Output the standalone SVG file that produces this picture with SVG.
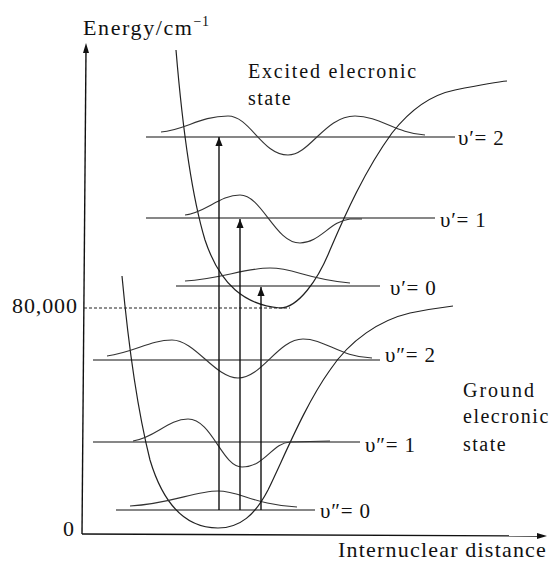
<svg xmlns="http://www.w3.org/2000/svg" width="553" height="561" viewBox="0 0 553 561">
<style>
  .t { font-family: "Liberation Serif", serif; fill: #111; }
  .ax { stroke: #111; stroke-width: 1.4; fill: none; }
  .pot { stroke: #222; stroke-width: 1.2; fill: none; }
  .lvl { stroke: #111; stroke-width: 1.2; fill: none; }
  .wf { stroke: #333; stroke-width: 1.1; fill: none; }
  .tr { stroke: #111; stroke-width: 1.4; fill: none; marker-end: url(#ah); }
</style>
<defs>
  <marker id="ah" viewBox="0 0 10 10" refX="10" refY="5" markerWidth="9" markerHeight="9" markerUnits="userSpaceOnUse" orient="auto">
    <path d="M0,1 L10,5 L0,9 Z" fill="#111"/>
  </marker>
</defs>
<rect width="553" height="561" fill="#fff"/>

<g id="axes">
  <path class="ax" d="M82,534 L86,50" />
  <path d="M86,43 L83,53 L89,53 Z" fill="#111"/>
  <path class="ax" d="M82,534 L538,536" />
  <path d="M547,536 L537,533 L537,539 Z" fill="#111"/>
  <path d="M84,308 L290,308" stroke="#222" stroke-width="1.1" stroke-dasharray="3,2" fill="none"/>
  <text class="t" x="83" y="35" font-size="22" letter-spacing="1.6">Energy/cm<tspan font-size="14" dy="-9" letter-spacing="0.5">−1</tspan></text>
  <text class="t" x="12" y="313" font-size="22" letter-spacing="0.9">80,000</text>
  <text class="t" x="63" y="536" font-size="22">0</text>
  <text class="t" x="338" y="557" font-size="22" letter-spacing="1.2">Internuclear distance</text>
</g>

<g id="excited-state">
  <path class="pot" d="M176,50 C181,110 190,190 205,240 C220,285 245,305 280,308 C298,308 318,280 330,250 C345,215 365,170 392,133 C410,110 430,95 455,90 C480,85 495,82 507,81"/>
  <text class="t" x="248" y="78" font-size="20" letter-spacing="1.8">Excited elecronic</text>
  <text class="t" x="248" y="105" font-size="20" letter-spacing="1.5">state</text>
</g>

<g id="ground-state">
  <path class="pot" d="M122,276 C127,330 135,400 150,460 C165,510 190,528 218,528 C240,528 255,515 268,490 C285,455 305,405 330,370 C350,340 380,320 410,313 C430,309 445,307 453,306"/>
  <text class="t" x="463" y="397" font-size="20" letter-spacing="2">Ground</text>
  <text class="t" x="463" y="423" font-size="20" letter-spacing="1.5">elecronic</text>
  <text class="t" x="463" y="451" font-size="20" letter-spacing="1.5">state</text>
</g>

<g id="v1-2">
  <path class="lvl" d="M146,137 L455,137"/>
  <path class="wf" d="M161,132 C185,130 200,116 228,116 C250,116 262,155 288,155 C310,155 325,116 355,116 C380,116 395,133 425,135"/>
  <text class="t" x="458" y="145" font-size="21" letter-spacing="0.8">υ′= 2</text>
</g>
<g id="v1-1">
  <path class="lvl" d="M146,218 L435,218"/>
  <path class="wf" d="M185,215 C205,213 220,195 240,195 C262,195 275,243 300,243 C320,243 330,221 350,219 L362,219"/>
  <text class="t" x="440" y="227" font-size="21" letter-spacing="0.8">υ′= 1</text>
</g>
<g id="v1-0">
  <path class="lvl" d="M176,286 L380,286"/>
  <path class="wf" d="M185,281 C220,279 245,268 270,268 C295,268 305,279 350,283"/>
  <text class="t" x="390" y="295" font-size="21" letter-spacing="0.8">υ′= 0</text>
</g>
<g id="v2-2">
  <path class="lvl" d="M93,360 L380,360"/>
  <path class="wf" d="M107,356 C135,352 150,340 172,340 C195,340 215,378 238,378 C262,378 278,339 303,339 C325,339 340,357 372,358"/>
  <text class="t" x="385" y="362" font-size="21" letter-spacing="0.8">υ″= 2</text>
</g>
<g id="v2-1">
  <path class="lvl" d="M93,442 L360,442"/>
  <path class="wf" d="M133,441 C155,438 168,419 188,419 C212,419 222,467 242,467 C265,467 272,443 290,442 L330,441"/>
  <text class="t" x="365" y="452" font-size="21" letter-spacing="0.8">υ″= 1</text>
</g>
<g id="v2-0">
  <path class="lvl" d="M116,510 L315,510"/>
  <path class="wf" d="M130,506 C170,504 195,491 218,491 C240,491 255,505 297,507"/>
  <text class="t" x="320" y="518" font-size="21" letter-spacing="0.8">υ″= 0</text>
</g>

<g id="transitions">
  <path class="tr" d="M219,510 L219,137"/>
  <path class="tr" d="M240,510 L240,219"/>
  <path class="tr" d="M261,510 L261,287"/>
</g>
</svg>
